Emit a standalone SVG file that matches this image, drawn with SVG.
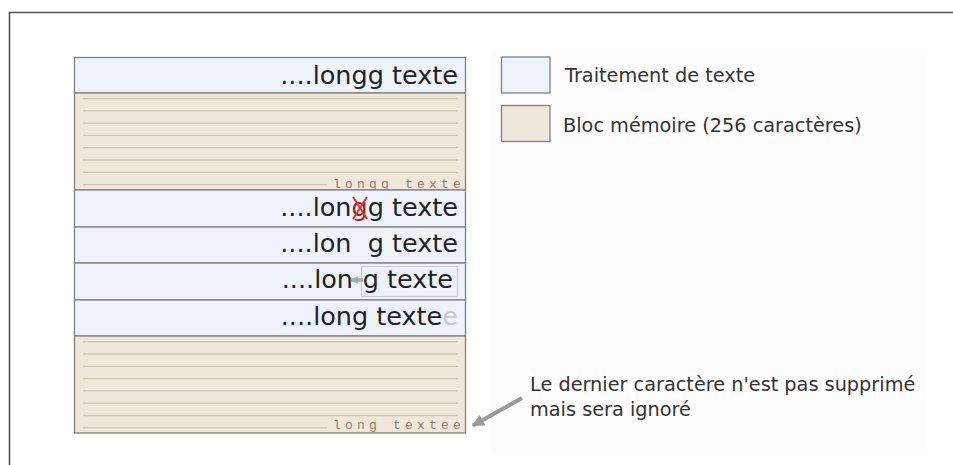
<svg xmlns="http://www.w3.org/2000/svg" width="953" height="465" viewBox="0 0 953 465">
<style>
.row{fill:#eef3fb;stroke:#808080;stroke-width:1.3}
.mem{fill:#efe8da;stroke:#808080;stroke-width:1.3}
.rl{stroke:#cfc6b0;stroke-width:1.3}
.big{font-family:"DejaVu Sans",sans-serif;font-size:25.5px;fill:#222;text-anchor:end}
.mono{font-family:"Liberation Mono","DejaVu Sans Mono",monospace;font-size:13px;letter-spacing:4.2px;fill:#8b8270}
.lab{font-family:"DejaVu Sans",sans-serif;font-size:19.3px;fill:#333}
</style>
<defs>
<marker id="ah" viewBox="0 0 10 10" refX="9" refY="5" markerWidth="3.2" markerHeight="3" orient="auto" markerUnits="strokeWidth">
<path d="M0,0 L10,5 L0,10 z" fill="#999"/>
</marker>
<marker id="ah2" viewBox="0 0 10 10" refX="9" refY="5" markerWidth="2.2" markerHeight="2.2" orient="auto" markerUnits="strokeWidth">
<path d="M0,0 L10,5 L0,10 z" fill="#aaa"/>
</marker>
</defs>
<rect width="953" height="465" fill="#fff"/>
<rect x="490" y="52" width="437" height="400" fill="#fdfdfd"/>
<path d="M9.5,465 V12.5 H953" fill="none" stroke="#555" stroke-width="1.6"/>

<g id="row1">
<rect class="row" x="74.5" y="57.5" width="391" height="35.5"/>
<text class="big" x="458" y="84">....longg texte</text>
</g>

<g id="mem1">
<rect class="mem" x="74.5" y="93" width="391" height="97"/>
<g class="rl">
<line x1="83" y1="98.5" x2="458" y2="98.5"/>
<line x1="83" y1="110.8" x2="458" y2="110.8"/>
<line x1="83" y1="123.1" x2="458" y2="123.1"/>
<line x1="83" y1="135.4" x2="458" y2="135.4"/>
<line x1="83" y1="147.7" x2="458" y2="147.7"/>
<line x1="83" y1="160" x2="458" y2="160"/>
<line x1="83" y1="172.3" x2="458" y2="172.3"/>
<line x1="83" y1="184.6" x2="327" y2="184.6"/>
</g>
<text class="mono" x="333" y="188">longg texte</text>
</g>

<g id="row2">
<rect class="row" x="74.5" y="190" width="391" height="37"/>
<text class="big" x="458" y="216">....lon<tspan fill="#8a2a2a">g</tspan>g texte</text>
<path d="M353,197 L367,219 M367,197 L353,219" stroke="#e03030" stroke-width="2" fill="none"/>
</g>

<g id="row3">
<rect class="row" x="74.5" y="227" width="391" height="36"/>
<text class="big" x="458" y="252">....lon<tspan fill="none">g</tspan>g texte</text>
</g>

<g id="row4">
<rect class="row" x="74.5" y="263" width="391" height="37"/>
<rect x="361.5" y="266.5" width="96" height="30" fill="none" stroke="#c8ccd4" stroke-width="1.2"/>
<text class="big" x="453" y="288">g texte</text>
<text class="big" x="353" y="288">....lon</text>
<line x1="363" y1="280" x2="351" y2="280" stroke="#aaa" stroke-width="3.5" marker-end="url(#ah2)"/>
</g>

<g id="row5">
<rect class="row" x="74.5" y="300" width="391" height="36"/>
<text class="big" x="458" y="325">....long texte<tspan fill="#c8c8c8">e</tspan></text>
</g>

<g id="mem2">
<rect class="mem" x="74.5" y="336" width="391" height="97"/>
<g class="rl">
<line x1="83" y1="341.7" x2="458" y2="341.7"/>
<line x1="83" y1="354" x2="458" y2="354"/>
<line x1="83" y1="366.3" x2="458" y2="366.3"/>
<line x1="83" y1="378.6" x2="458" y2="378.6"/>
<line x1="83" y1="390.9" x2="458" y2="390.9"/>
<line x1="83" y1="403.2" x2="458" y2="403.2"/>
<line x1="83" y1="415.5" x2="458" y2="415.5"/>
<line x1="83" y1="427.8" x2="327" y2="427.8"/>
</g>
<text class="mono" x="333" y="429">long textee</text>
</g>

<g id="legend-text">
<rect class="row" x="501.5" y="57" width="48.5" height="36"/>
<text class="lab" x="565" y="82">Traitement de texte</text>
</g>
<g id="legend-mem">
<rect class="mem" x="501.5" y="105.5" width="48.5" height="36"/>
<text class="lab" x="563" y="132">Bloc mémoire (256 caractères)</text>
</g>

<g id="note">
<text class="lab" x="530" y="391">Le dernier caractère n'est pas supprimé</text>
<text class="lab" x="530" y="416">mais sera ignoré</text>
</g>

<g id="connectors">
<line x1="522" y1="398" x2="473" y2="425.5" stroke="#999" stroke-width="4" marker-end="url(#ah)"/>
</g>
</svg>
